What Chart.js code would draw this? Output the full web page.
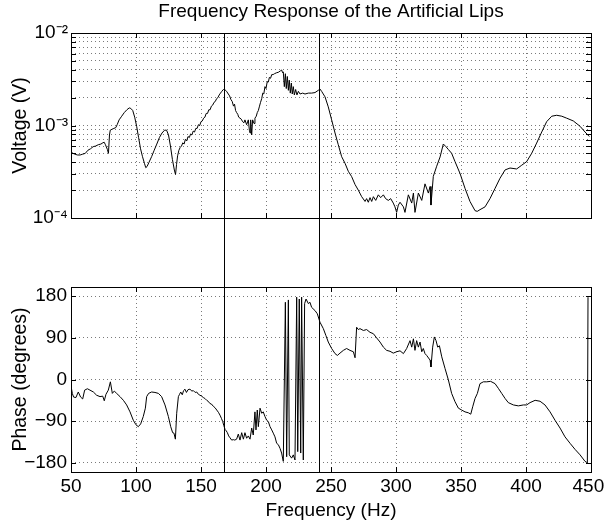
<!DOCTYPE html>
<html>
<head>
<meta charset="utf-8">
<script src="https://cdn.jsdelivr.net/npm/chart.js@4/dist/chart.umd.min.js"></script>
<style>
  html, body { margin: 0; padding: 0; background: #fff; }
  canvas { position: absolute; left: 0; }
  #magChart { top: 0; }
  #phaseChart { top: 253px; }
</style>
</head>
<body>
<canvas id="magChart" width="605" height="253"></canvas>
<canvas id="phaseChart" width="605" height="276"></canvas>
<script>
// ---- data ----
const freqTicks = [50, 100, 150, 200, 250, 300, 350, 400, 450];
const freqLabels = ["50", "100", "150", "200", "250", "300", "350", "400", "450"];
const voltTicks = [1e-4, 2e-4, 3e-4, 4e-4, 5e-4, 6e-4, 7e-4, 8e-4, 9e-4,
  1e-3, 2e-3, 3e-3, 4e-3, 5e-3, 6e-3, 7e-3, 8e-3, 9e-3, 1e-2];
const voltLabelTicks = [1e-4, 1e-3, 1e-2];
const voltLabels = ["10\u207B\u2074", "10\u207B\u00B3", "10\u207B\u00B2"];
const phaseTicks = [-180, -90, 0, 90, 180];
const phaseLabels = ["\u2212180", "\u221290", "0", "90", "180"];
const markerFreqs = [167.5, 241];

const magFreq = [
  50.0, 51.5, 53.0, 55.0, 57.0, 59.0, 61.0, 63.0, 65.0, 67.0, 69.0, 71.0, 73.0, 74.5, 75.5, 76.5,
  78.0, 78.8, 79.6, 80.2, 81.5, 83.0, 84.5, 85.5, 87.0, 89.0, 91.0, 93.0, 94.8, 96.0, 97.5, 99.0,
  100.5, 102.0, 103.5, 105.0, 106.5, 107.5, 108.5, 110.0, 112.0, 114.0, 116.0, 118.0, 120.0, 122.0,
  123.5, 125.0, 126.5, 128.0, 129.5, 130.4, 131.2, 132.0, 133.0, 134.0, 135.0, 136.0, 137.0, 138.0,
  139.0, 140.0, 141.0, 142.0, 143.0, 144.0, 145.0, 146.0, 147.0, 148.0, 149.0, 150.0, 151.0, 152.0,
  153.0, 154.0, 155.0, 156.0, 157.0, 158.0, 159.0, 160.0, 161.0, 162.0, 163.0, 164.0, 165.0, 166.0,
  167.2, 168.5, 169.7, 171.0, 172.0, 173.0, 174.0, 175.0, 175.8, 176.6, 177.4, 178.3, 179.0, 180.0,
  181.0, 182.0, 183.0, 183.8, 185.1, 186.4, 187.2, 187.7, 188.2, 189.0, 189.7, 190.8, 191.5, 192.5,
  193.3, 194.1, 195.0, 195.8, 196.7, 197.5, 198.3, 199.2, 200.0, 200.9, 201.8, 202.6, 203.5, 204.4,
  205.5, 206.5, 208.2, 209.5, 211.0, 212.0, 212.8, 213.3, 214.1, 214.9, 215.6, 216.4, 217.2, 217.9,
  218.7, 219.5, 220.2, 221.0, 221.8, 222.8, 223.8, 224.9, 226.2, 228.2, 230.0, 232.6, 235.1, 237.7,
  240.2, 241.5, 242.8, 245.4, 247.9, 250.5, 253.1, 255.6, 258.2, 260.8, 263.3, 265.9, 268.5, 271.0,
  273.6, 276.2, 277.4, 278.7, 280.0, 281.3, 282.6, 284.4, 286.4, 288.2, 290.3, 292.0, 294.1, 295.9,
  297.9, 299.2, 300.5, 301.8, 303.1, 305.7, 306.9, 309.5, 312.1, 313.4, 314.6, 317.2, 319.8, 322.3,
  324.9, 326.2, 326.9, 328.7, 331.3, 333.9, 336.4, 338.5, 340.3, 342.8, 345.4, 349.3, 353.1, 356.9,
  360.8, 362.5, 364.6, 368.5, 372.3, 376.2, 380.0, 383.9, 387.7, 392.8, 396.7, 400.5, 404.4, 408.2,
  412.1, 415.9, 419.8, 423.6, 427.5, 431.3, 436.4, 441.6, 445.4, 448.7
];
const magVolt = [
  5.2e-4, 5.0e-4, 4.9e-4, 4.8e-4, 4.8e-4, 4.9e-4, 5.0e-4, 5.4e-4, 5.6e-4, 5.9e-4, 6.0e-4, 6.2e-4, 6.3e-4, 6.5e-4, 6.6e-4, 6.2e-4,
  5.5e-4, 5.0e-4, 7.9e-4, 8.9e-4, 9.1e-4, 9.3e-4, 9.5e-4, 1.02e-3, 1.15e-3, 1.26e-3, 1.38e-3, 1.48e-3, 1.55e-3, 1.53e-3, 1.45e-3, 1.23e-3,
  9.8e-4, 7.4e-4, 5.6e-4, 4.6e-4, 3.9e-4, 3.5e-4, 3.6e-4, 4.0e-4, 4.6e-4, 5.4e-4, 6.3e-4, 7.4e-4, 8.3e-4, 8.9e-4,
  8.9e-4, 7.9e-4, 6.0e-4, 4.3e-4, 3.3e-4, 2.95e-4, 3.8e-4, 4.7e-4, 5.4e-4, 5.8e-4, 6.0e-4, 6.5e-4, 6.3e-4, 7.1e-4,
  6.8e-4, 7.6e-4, 7.4e-4, 8.1e-4, 7.9e-4, 8.7e-4, 8.5e-4, 9.3e-4, 9.3e-4, 1.02e-3, 1.0e-3, 1.10e-3, 1.12e-3, 1.20e-3,
  1.23e-3, 1.35e-3, 1.35e-3, 1.48e-3, 1.48e-3, 1.62e-3, 1.66e-3, 1.78e-3, 1.82e-3, 1.95e-3, 2.0e-3, 2.14e-3, 2.24e-3, 2.34e-3,
  2.45e-3, 2.43e-3, 2.34e-3, 2.19e-3, 2.09e-3, 1.91e-3, 1.82e-3, 1.62e-3, 1.70e-3, 1.45e-3, 1.38e-3, 1.32e-3, 1.23e-3, 1.20e-3,
  1.17e-3, 1.10e-3, 1.07e-3, 1.15e-3, 1.02e-3, 1.15e-3, 8.9e-4, 8.3e-4, 1.15e-3, 7.9e-4, 1.15e-3, 1.05e-3, 1.20e-3, 1.26e-3,
  1.38e-3, 1.45e-3, 1.62e-3, 1.78e-3, 1.95e-3, 2.24e-3, 2.19e-3, 2.63e-3, 2.51e-3, 2.95e-3, 2.95e-3, 3.31e-3, 3.24e-3, 3.55e-3,
  3.55e-3, 3.63e-3, 3.72e-3, 3.76e-3, 3.89e-3, 3.98e-3, 3.72e-3, 3.80e-3, 2.63e-3, 3.63e-3, 2.51e-3, 3.39e-3, 2.40e-3, 3.09e-3,
  2.24e-3, 2.88e-3, 2.19e-3, 2.63e-3, 2.14e-3, 2.45e-3, 2.14e-3, 2.34e-3, 2.19e-3, 2.24e-3, 2.19e-3, 2.24e-3, 2.24e-3, 2.27e-3,
  2.40e-3, 2.48e-3, 2.34e-3, 2.04e-3, 1.59e-3, 1.15e-3, 8.3e-4, 6.2e-4, 4.6e-4, 3.9e-4, 3.2e-4, 2.8e-4, 2.3e-4, 2.0e-4,
  1.70e-4, 1.51e-4, 1.62e-4, 1.48e-4, 1.66e-4, 1.51e-4, 1.70e-4, 1.55e-4, 1.78e-4, 1.66e-4, 1.78e-4, 1.62e-4, 1.55e-4, 1.62e-4,
  1.45e-4, 1.32e-4, 1.15e-4, 1.38e-4, 1.48e-4, 1.32e-4, 1.15e-4, 1.78e-4, 1.45e-4, 1.86e-4, 1.15e-4, 1.86e-4, 1.55e-4, 2.34e-4,
  1.86e-4, 2.19e-4, 1.38e-4, 2.82e-4, 3.63e-4, 4.57e-4, 6.31e-4, 5.89e-4, 5.50e-4, 5.01e-4, 4.07e-4, 3.02e-4, 2.09e-4, 1.51e-4,
  1.20e-4, 1.18e-4, 1.23e-4, 1.32e-4, 1.62e-4, 2.09e-4, 2.69e-4, 3.31e-4, 3.47e-4, 3.39e-4, 3.72e-4, 4.07e-4, 5.01e-4, 6.46e-4,
  8.51e-4, 1.10e-3, 1.26e-3, 1.29e-3, 1.26e-3, 1.20e-3, 1.12e-3, 9.8e-4, 8.5e-4, 7.6e-4
];

const phaseFreq = [
  50.0, 51.0, 52.0, 53.8, 55.6, 57.4, 59.0, 60.5, 62.6, 64.6, 67.2, 69.7, 72.3, 74.4, 75.6, 76.9,
  78.7, 80.3, 81.8, 83.3, 85.1, 87.7, 90.3, 92.8, 95.4, 97.9, 100.0, 101.8, 103.6, 105.6, 107.2, 108.2,
  109.7, 112.0, 114.6, 117.2, 119.7, 122.3, 124.9, 126.7, 128.2, 129.2, 130.3, 131.3, 132.6, 133.5,
  134.4, 135.6, 136.6, 137.7, 138.8, 140.0, 141.5, 143.0, 144.1, 145.5, 146.7, 148.0, 149.2, 150.5,
  151.8, 153.0, 154.4, 155.5, 156.9, 158.0, 159.5, 160.8, 162.1, 163.4, 164.6, 165.7, 166.7, 167.6,
  168.5, 169.4, 170.3, 171.3, 172.3, 173.6, 174.9, 176.0, 177.4, 178.7, 180.0, 181.3, 182.6, 183.8,
  185.1, 186.4, 187.7, 189.0, 190.2, 191.5, 192.3, 193.3, 194.1, 195.4, 196.7, 197.9, 199.2, 200.5,
  201.8, 203.1, 204.4, 205.6, 206.9, 208.2, 209.5, 210.8, 212.0, 213.3, 214.9, 215.9, 217.2, 217.9,
  219.7, 221.0, 222.3, 223.6, 224.4, 225.6, 226.7, 227.4, 228.7, 229.7, 230.8, 232.6, 233.8, 235.1,
  237.7, 239.5, 241.5, 244.1, 246.1, 247.9, 250.5, 253.1, 254.9, 256.9, 259.5, 262.0, 264.6, 267.2,
  268.5, 269.7, 271.0, 272.3, 274.9, 277.4, 280.0, 282.6, 285.1, 287.7, 290.3, 292.8, 295.4, 297.9,
  300.5, 303.1, 305.7, 308.2, 310.8, 312.1, 313.4, 314.6, 315.9, 317.2, 318.5, 319.8, 321.0, 322.3,
  323.6, 326.2, 326.9, 328.2, 329.5, 330.8, 332.1, 333.4, 335.2, 337.7, 340.3, 342.8, 345.4, 348.0,
  350.5, 353.1, 355.7, 357.5, 359.0, 360.8, 362.6, 364.6, 367.2, 369.8, 372.8, 376.2, 378.7, 381.3,
  383.9, 386.4, 390.3, 394.1, 398.0, 400.5, 403.1, 407.0, 410.8, 414.6, 418.5, 422.3, 426.2, 430.0,
  433.9, 437.7, 441.6, 445.4, 447.2, 447.7
];
const phaseDeg = [
  -14, -30, -38, -39, -27, -38, -42, -23, -20, -23, -27, -34, -37, -36, -46, -32,
  -23, -5, -30, -25, -30, -37, -45, -55, -70, -88, -98, -102, -96, -80, -62, -37,
  -30, -27, -28, -30, -37, -55, -80, -102, -115, -116, -129, -73, -37, -32,
  -27, -33, -24, -21, -28, -22, -21, -25, -24, -28, -27, -32, -34, -36,
  -39, -41, -45, -47, -52, -53, -58, -61, -66, -71, -77, -84, -91, -100,
  -108, -111, -115, -122, -126, -131, -130, -131, -129, -118, -131, -115, -129, -115,
  -127, -122, -129, -105, -120, -70, -109, -66, -102, -62, -73, -70, -80, -88,
  -91, -102, -109, -116, -124, -138, -141, -149, -159, -177, 167, -167, 172, -163,
  -170, -163, -174, 178, -156, 174, -159, 178, -174, 164, 174, 164, 167, 156,
  149, 142, 124, 110, 95, 81, 67, 56, 52, 57, 63, 67, 63, 60,
  47, 113, 108, 110, 106, 108, 102, 99, 90, 81, 70, 63, 61, 57,
  60, 62, 56, 67, 84, 70, 88, 63, 84, 70, 81, 60, 67, 56,
  52, 42, 27, 70, 92, 84, 70, 73, 49, 24, -1, -30, -48, -62,
  -66, -70, -72, -75, -59, -41, -30, -9, -5, -5, -4, -9, -19, -30,
  -41, -50, -55, -57, -55, -55, -50, -45, -47, -55, -70, -88, -105, -124,
  -138, -151, -163, -177, -180, 178
];

// ---- shared styling ----
const FONT = "'Liberation Sans', Arial, Helvetica, sans-serif";
const gridColor = "#7a7a7a";

const toPoints = (xs, ys) => xs.map((x, i) => ({ x: x, y: ys[i] }));

// box with inward tick marks, like the original axes
const framePlugin = {
  id: "frame",
  afterDatasetsDraw(chart) {
    const { ctx, chartArea: a, scales } = chart;
    ctx.save();
    ctx.strokeStyle = "#000";
    ctx.lineWidth = 1;
    ctx.beginPath();
    scales.x.ticks.forEach(t => {
      const px = Math.round(scales.x.getPixelForValue(t.value)) + 0.5;
      ctx.moveTo(px, a.bottom); ctx.lineTo(px, a.bottom - 5);
      ctx.moveTo(px, a.top); ctx.lineTo(px, a.top + 5);
    });
    scales.y.ticks.forEach(t => {
      const py = Math.round(scales.y.getPixelForValue(t.value)) + 0.5;
      ctx.moveTo(a.left, py); ctx.lineTo(a.left + 5, py);
      ctx.moveTo(a.right, py); ctx.lineTo(a.right - 5, py);
    });
    ctx.stroke();
    ctx.strokeRect(Math.round(a.left) + 0.5, Math.round(a.top) + 0.5,
      Math.round(a.right - a.left), Math.round(a.bottom - a.top));
    ctx.restore();
  }
};

// vertical marker lines that run through both panels
const markerPlugin = {
  id: "markers",
  afterDatasetsDraw(chart, args, opts) {
    const { ctx, chartArea: a, scales } = chart;
    const y0 = opts.side === "upper" ? a.top : 0;
    const y1 = opts.side === "upper" ? chart.height : a.bottom;
    ctx.save();
    ctx.strokeStyle = "#000";
    ctx.lineWidth = 1;
    markerFreqs.forEach(f => {
      const px = Math.round(scales.x.getPixelForValue(f)) + 0.5;
      ctx.beginPath();
      ctx.moveTo(px, y0);
      ctx.lineTo(px, y1);
      ctx.stroke();
    });
    ctx.restore();
  }
};

function xScale(showLabels) {
  return {
    type: "linear",
    min: 50,
    max: 450,
    afterBuildTicks: s => { s.ticks = freqTicks.map(v => ({ value: v })); },
    afterFit: s => {
      s.paddingLeft = 0;
      s.paddingRight = 0;
      s.height = showLabels ? 57 : 0;
    },
    grid: { color: gridColor, lineWidth: 1, drawTicks: false },
    border: { display: false, dash: [1, 3] },
    ticks: {
      display: showLabels,
      autoSkip: false,
      maxRotation: 0,
      padding: 3,
      color: "#000",
      font: { family: FONT, size: 19 },
      callback: v => {
        const k = freqTicks.indexOf(v);
        if (k < 0) return "";
        // last label is nudged in from the figure edge, as in the original
        return k === freqTicks.length - 1 ? freqLabels[k] + " " : freqLabels[k];
      }
    },
    title: {
      display: showLabels,
      text: "Frequency (Hz)",
      color: "#000",
      font: { family: FONT, size: 19 },
      padding: { top: 0, bottom: 7 }
    }
  };
}

function yTitle(text) {
  return {
    display: true,
    text: text,
    color: "#000",
    font: { family: FONT, size: 19.5 },
    padding: { top: 9, bottom: 0 }
  };
}

const baseLine = {
  borderColor: "#000",
  borderWidth: 1,
  pointRadius: 0,
  tension: 0,
  fill: false
};

new Chart(document.getElementById("magChart"), {
  type: "line",
  data: {
    datasets: [Object.assign({ label: "Voltage", data: toPoints(magFreq, magVolt) }, baseLine)]
  },
  options: {
    responsive: false,
    animation: false,
    devicePixelRatio: 1,
    layout: { padding: { left: 0, right: 14, top: 0, bottom: 35 } },
    plugins: {
      legend: { display: false },
      tooltip: { enabled: false },
      title: {
        display: true,
        fullSize: false,
        text: "Frequency Response of the Artificial Lips",
        color: "#000",
        font: { family: FONT, size: 19, weight: "normal" },
        padding: { top: 0, bottom: 10.2 }
      },
      markers: { side: "upper" }
    },
    scales: {
      x: xScale(false),
      y: {
        type: "logarithmic",
        min: 1e-4,
        max: 1e-2,
        afterBuildTicks: s => { s.ticks = voltTicks.map(v => ({ value: v })); },
        afterFit: s => { s.width = 71; },
        grid: { color: gridColor, lineWidth: 1, drawTicks: false },
        border: { display: false, dash: [1, 3] },
        ticks: {
          autoSkip: false,
          padding: 3,
          color: "#000",
          font: { family: FONT, size: 19 },
          callback: v => {
            const k = voltLabelTicks.findIndex(t => Math.abs(t - v) / t < 1e-6);
            return k >= 0 ? voltLabels[k] : "";
          }
        },
        title: yTitle("Voltage (V)")
      }
    }
  },
  plugins: [framePlugin, markerPlugin]
});

new Chart(document.getElementById("phaseChart"), {
  type: "line",
  data: {
    datasets: [Object.assign({ label: "Phase", data: toPoints(phaseFreq, phaseDeg) }, baseLine)]
  },
  options: {
    responsive: false,
    animation: false,
    devicePixelRatio: 1,
    layout: { padding: { left: 0, right: 14, top: 34, bottom: 0 } },
    plugins: {
      legend: { display: false },
      tooltip: { enabled: false },
      markers: { side: "lower" }
    },
    scales: {
      x: xScale(true),
      y: {
        type: "linear",
        min: -200,
        max: 200,
        afterBuildTicks: s => { s.ticks = phaseTicks.map(v => ({ value: v })); },
        afterFit: s => { s.width = 71; },
        grid: { color: gridColor, lineWidth: 1, drawTicks: false },
        border: { display: false, dash: [1, 3] },
        ticks: {
          autoSkip: false,
          padding: 4,
          color: "#000",
          font: { family: FONT, size: 19 },
          callback: v => {
            const k = phaseTicks.indexOf(v);
            return k >= 0 ? phaseLabels[k] : "";
          }
        },
        title: yTitle("Phase (degrees)")
      }
    }
  },
  plugins: [framePlugin, markerPlugin]
});
</script>
</body>
</html>
